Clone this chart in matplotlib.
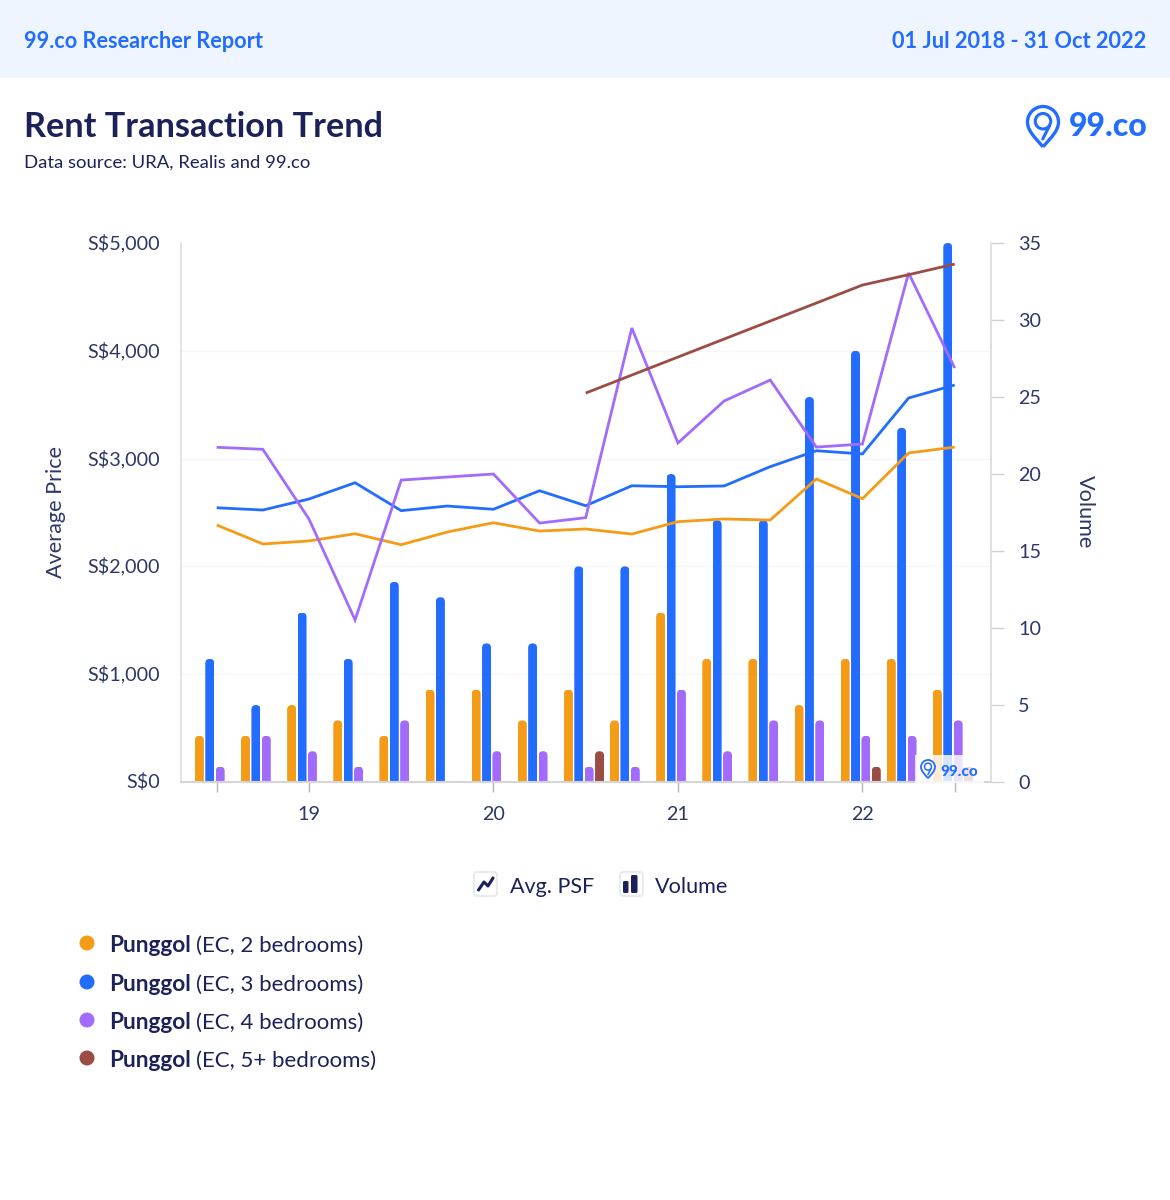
import numpy as np
import matplotlib
matplotlib.use("Agg")
import matplotlib.pyplot as plt
from matplotlib.patches import FancyBboxPatch, Rectangle, Circle, PathPatch
from matplotlib.path import Path
from matplotlib.transforms import ScaledTranslation

plt.rcParams['font.family'] = ['Lato', 'DejaVu Sans']

# ---- data ----
quarters = ['18Q3','18Q4','19Q1','19Q2','19Q3','19Q4','20Q1','20Q2','20Q3','20Q4',
            '21Q1','21Q2','21Q3','21Q4','22Q1','22Q2','22Q3']
year_tick_idx = [0, 2, 6, 10, 14, 16]
year_tick_labels = ['', '19', '20', '21', '22', '']
price_ticks = [0, 1000, 2000, 3000, 4000, 5000]
price_labels = ['S$0', 'S$1,000', 'S$2,000', 'S$3,000', 'S$4,000', 'S$5,000']
volume_ticks = [0, 5, 10, 15, 20, 25, 30, 35]

psf_2br = [2384,2208,2236,2303,2201,2319,2405,2328,2347,2300,2415,2440,2430,2811,2628,3052,3107]
psf_3br = [2544,2523,2625,2776,2517,2560,2530,2702,2563,2748,2739,2746,2925,3073,3043,3562,3683]
psf_4br = [3105,3086,2440,1503,2801,2829,2857,2402,2452,4211,3145,3534,3729,3107,3135,4722,3840]
psf_5br_idx = [8, 14, 15, 16]
psf_5br = [3608,4610,4706,4805]

vol_2br = [3,3,5,4,3,6,6,4,6,4,11,8,8,5,8,8,6]
vol_3br = [8,5,11,8,13,12,9,9,14,14,20,17,17,25,28,23,35]
vol_4br = [1,3,2,1,4,0,2,2,1,1,6,2,4,4,3,3,4]
vol_5br = [0,0,0,0,0,0,0,0,2,0,0,0,0,0,1,0,1]

series_names = ['(EC, 2 bedrooms)', '(EC, 3 bedrooms)', '(EC, 4 bedrooms)', '(EC, 5+ bedrooms)']
ORANGE, BLUE, PURPLE, BROWN = '#f49b17', '#226dff', '#a26bfb', '#9b4d45'
colors = [ORANGE, BLUE, PURPLE, BROWN]
NAVY = '#1c2259'
TICK = '#2f3768'

W, H = 1170, 1200
fig = plt.figure(figsize=(W/100, H/100), dpi=100, facecolor='white')

def axes_px(l, t, r, b):
    return [l/W, 1-b/H, (r-l)/W, (b-t)/H]

# ---- chart axes ----
rect = axes_px(181, 243, 991, 782)
ax_v = fig.add_axes(rect)      # bars, right axis
ax_p = fig.add_axes(rect)      # lines, left axis
ax_p.set_zorder(ax_v.get_zorder()+1)
ax_p.patch.set_visible(False)

x = np.arange(len(quarters))
xlim = (-0.774, 16.787)
for a in (ax_v, ax_p):
    a.set_xlim(*xlim)
    for s in a.spines.values():
        s.set_visible(False)

ax_v.set_ylim(0, 35)
ax_p.set_ylim(0, 5000)

# faint price gridlines sit beneath the bars
ax_v.set_yticks([p*35/5000 for p in price_ticks], minor=True)
ax_v.grid(axis='y', which='minor', color='#f6f6f8', lw=1, zorder=0)
ax_v.grid(axis='y', which='major', visible=False)
ax_v.tick_params(axis='y', which='minor', length=0)
ax_v.set_axisbelow(True)

# bars with rounded tops
bar_w = 0.195
offsets = [-0.375, -0.15, 0.075, 0.30]
px_per_x = 810/(xlim[1]-xlim[0])
px_per_y = 539/35
radius = bar_w/2
aspect = (px_per_x/px_per_y)
for vals, off, col in zip([vol_2br, vol_3br, vol_4br, vol_5br], offsets, colors):
    bars = ax_v.bar(x+off, vals, width=bar_w, color=col, linewidth=0, zorder=2)
    for b, v in zip(bars, vals):
        if v <= 0:
            continue
        clip = FancyBboxPatch((b.get_x(), -2), bar_w, v+2,
                              boxstyle=f"round,pad=0,rounding_size={radius}",
                              mutation_aspect=aspect, transform=ax_v.transData)
        b.set_clip_path(clip)

# lines
lw = 2.0
for vals, col in zip([psf_2br, psf_3br, psf_4br], [ORANGE, BLUE, PURPLE]):
    ax_p.plot(x, vals, color=col, lw=lw, solid_joinstyle='miter', solid_capstyle='butt', zorder=4)
ax_p.plot(psf_5br_idx, psf_5br, color=BROWN, lw=lw, solid_joinstyle='miter', solid_capstyle='butt', zorder=5)

# axes dress
TS = 14.2
ax_p.set_yticks(price_ticks)
ax_p.set_yticklabels(price_labels, fontsize=TS, color=TICK)
ax_p.tick_params(axis='y', length=0, pad=15)
ax_p.set_xticks(x[year_tick_idx])
ax_p.set_xticklabels(year_tick_labels, fontsize=TS, color=TICK)
ax_p.tick_params(axis='x', length=7, width=1, color='#b5b5bb', pad=10)
ax_v.set_xticks([])

ax_v.yaxis.tick_right()
ax_v.set_yticks(volume_ticks)
ax_v.set_yticklabels([str(v) for v in volume_ticks], fontsize=TS, color=TICK)
ax_v.tick_params(axis='y', which='major', length=9, width=1, color='#d2d2d6', pad=10.5)

nudge_up = ScaledTranslation(0, 0.015, fig.dpi_scale_trans)
for lab in ax_p.get_yticklabels():
    lab.set_transform(lab.get_transform() + nudge_up)

for a, side, c, w in ((ax_p, 'left', '#dcdcdf', 1.1), (ax_p, 'bottom', '#d5d5d9', 1.5), (ax_v, 'right', '#d8d8dc', 1.1)):
    a.spines[side].set_visible(True)
    a.spines[side].set_color(c)
    a.spines[side].set_linewidth(w)

# ---- page overlay in pixel coordinates ----
ov = fig.add_axes([0, 0, 1, 1], zorder=10)
ov.set_xlim(0, W); ov.set_ylim(H, 0); ov.axis('off'); ov.patch.set_visible(False)

# header
ov.add_patch(Rectangle((0, 0), W, 77.5, fc='#eef5ff', ec='none', zorder=0))
ov.text(24, 42, '99.co Researcher Report', color=BLUE, fontsize=15.7, fontweight='bold', va='center', ha='left')
ov.text(1146, 42, '01 Jul 2018 - 31 Oct 2022', color=BLUE, fontsize=15.7, fontweight='bold', va='center', ha='right')

# title
ov.text(24, 127, 'Rent Transaction Trend', color=NAVY, fontsize=24.7, fontweight='bold', va='center', ha='left')
ov.text(24, 163, 'Data source: URA, Realis and 99.co', color=NAVY, fontsize=13.3, va='center', ha='left')

# axis titles
ov.text(55.5, 512, 'Average Price', color=TICK, fontsize=15.6, rotation=90, va='center', ha='center')
ov.text(1085, 512, 'Volume', color=TICK, fontsize=15.6, rotation=270, va='center', ha='center')

def pin(cx, cy, r, lw_outer, lw_inner, zorder=12):
    # teardrop outline, inner ring and the stroke that runs down into the tip
    k = 0.5523*r
    tip = cy + 1.6*r
    verts = [(cx, tip), (cx-r*0.55, tip-r*0.62), (cx-r, cy+r*0.55), (cx-r, cy),
             (cx-r, cy-k), (cx-k, cy-r), (cx, cy-r),
             (cx+k, cy-r), (cx+r, cy-k), (cx+r, cy),
             (cx+r, cy+r*0.55), (cx+r*0.55, tip-r*0.62), (cx, tip)]
    codes = [Path.MOVETO] + [Path.CURVE4]*12
    ov.add_patch(PathPatch(Path(verts, codes), fc='none', ec=BLUE, lw=lw_outer, zorder=zorder))
    ov.add_patch(Circle((cx, cy-r*0.05), r*0.5, fc='none', ec=BLUE, lw=lw_inner, zorder=zorder))
    ov.plot([cx+r*0.42, cx-r*0.02], [cy+r*0.25, cy+r*1.1], color=BLUE, lw=lw_inner, zorder=zorder,
            solid_capstyle='round')

# logo
pin(1043, 122, 15.5, 2.4, 2.2)
ov.text(1069, 127, '99.co', color=BLUE, fontsize=23, fontweight='black', va='center', ha='left')

# chart watermark
ov.add_patch(Rectangle((915, 755), 69, 27.5, fc='white', ec='none', alpha=0.82, zorder=11))
pin(928, 767, 7, 1.3, 1.1)
ov.text(940, 772, '99.co', color=BLUE, fontsize=11, fontweight='black', va='center', ha='left', zorder=12)

# mode switch legend
for bx in (474, 620):
    ov.add_patch(FancyBboxPatch((bx, 872), 23, 24, boxstyle='round,pad=0,rounding_size=3',
                                fc='white', ec='#e3e5ef', lw=1.1))
ov.plot([478.5, 484, 488, 493], [890, 882, 886, 878], color=NAVY, lw=2.2, solid_capstyle='round')
ov.add_patch(FancyBboxPatch((623, 881), 5.5, 12, boxstyle='round,pad=0,rounding_size=1.5', fc=NAVY, ec='none'))
ov.add_patch(FancyBboxPatch((631, 875), 6.5, 18, boxstyle='round,pad=0,rounding_size=1.5', fc=NAVY, ec='none'))
ov.text(510, 887, 'Avg. PSF', color=NAVY, fontsize=15.5, va='center', ha='left')
ov.text(655, 887, 'Volume', color=NAVY, fontsize=15.6, va='center', ha='left')

# series legend
for yy, name, col in zip([944, 983, 1021, 1059], series_names, colors):
    ov.add_patch(Circle((87, yy-1), 7.5, fc=col, ec='none'))
    ov.text(109.5, yy+1.5, 'Punggol', color=NAVY, fontsize=16.3, fontweight='bold', va='center', ha='left')
    ov.text(196.5, yy+1.5, name, color=NAVY, fontsize=16, va='center', ha='left')

fig.savefig('out.png', dpi=100, facecolor='white')
